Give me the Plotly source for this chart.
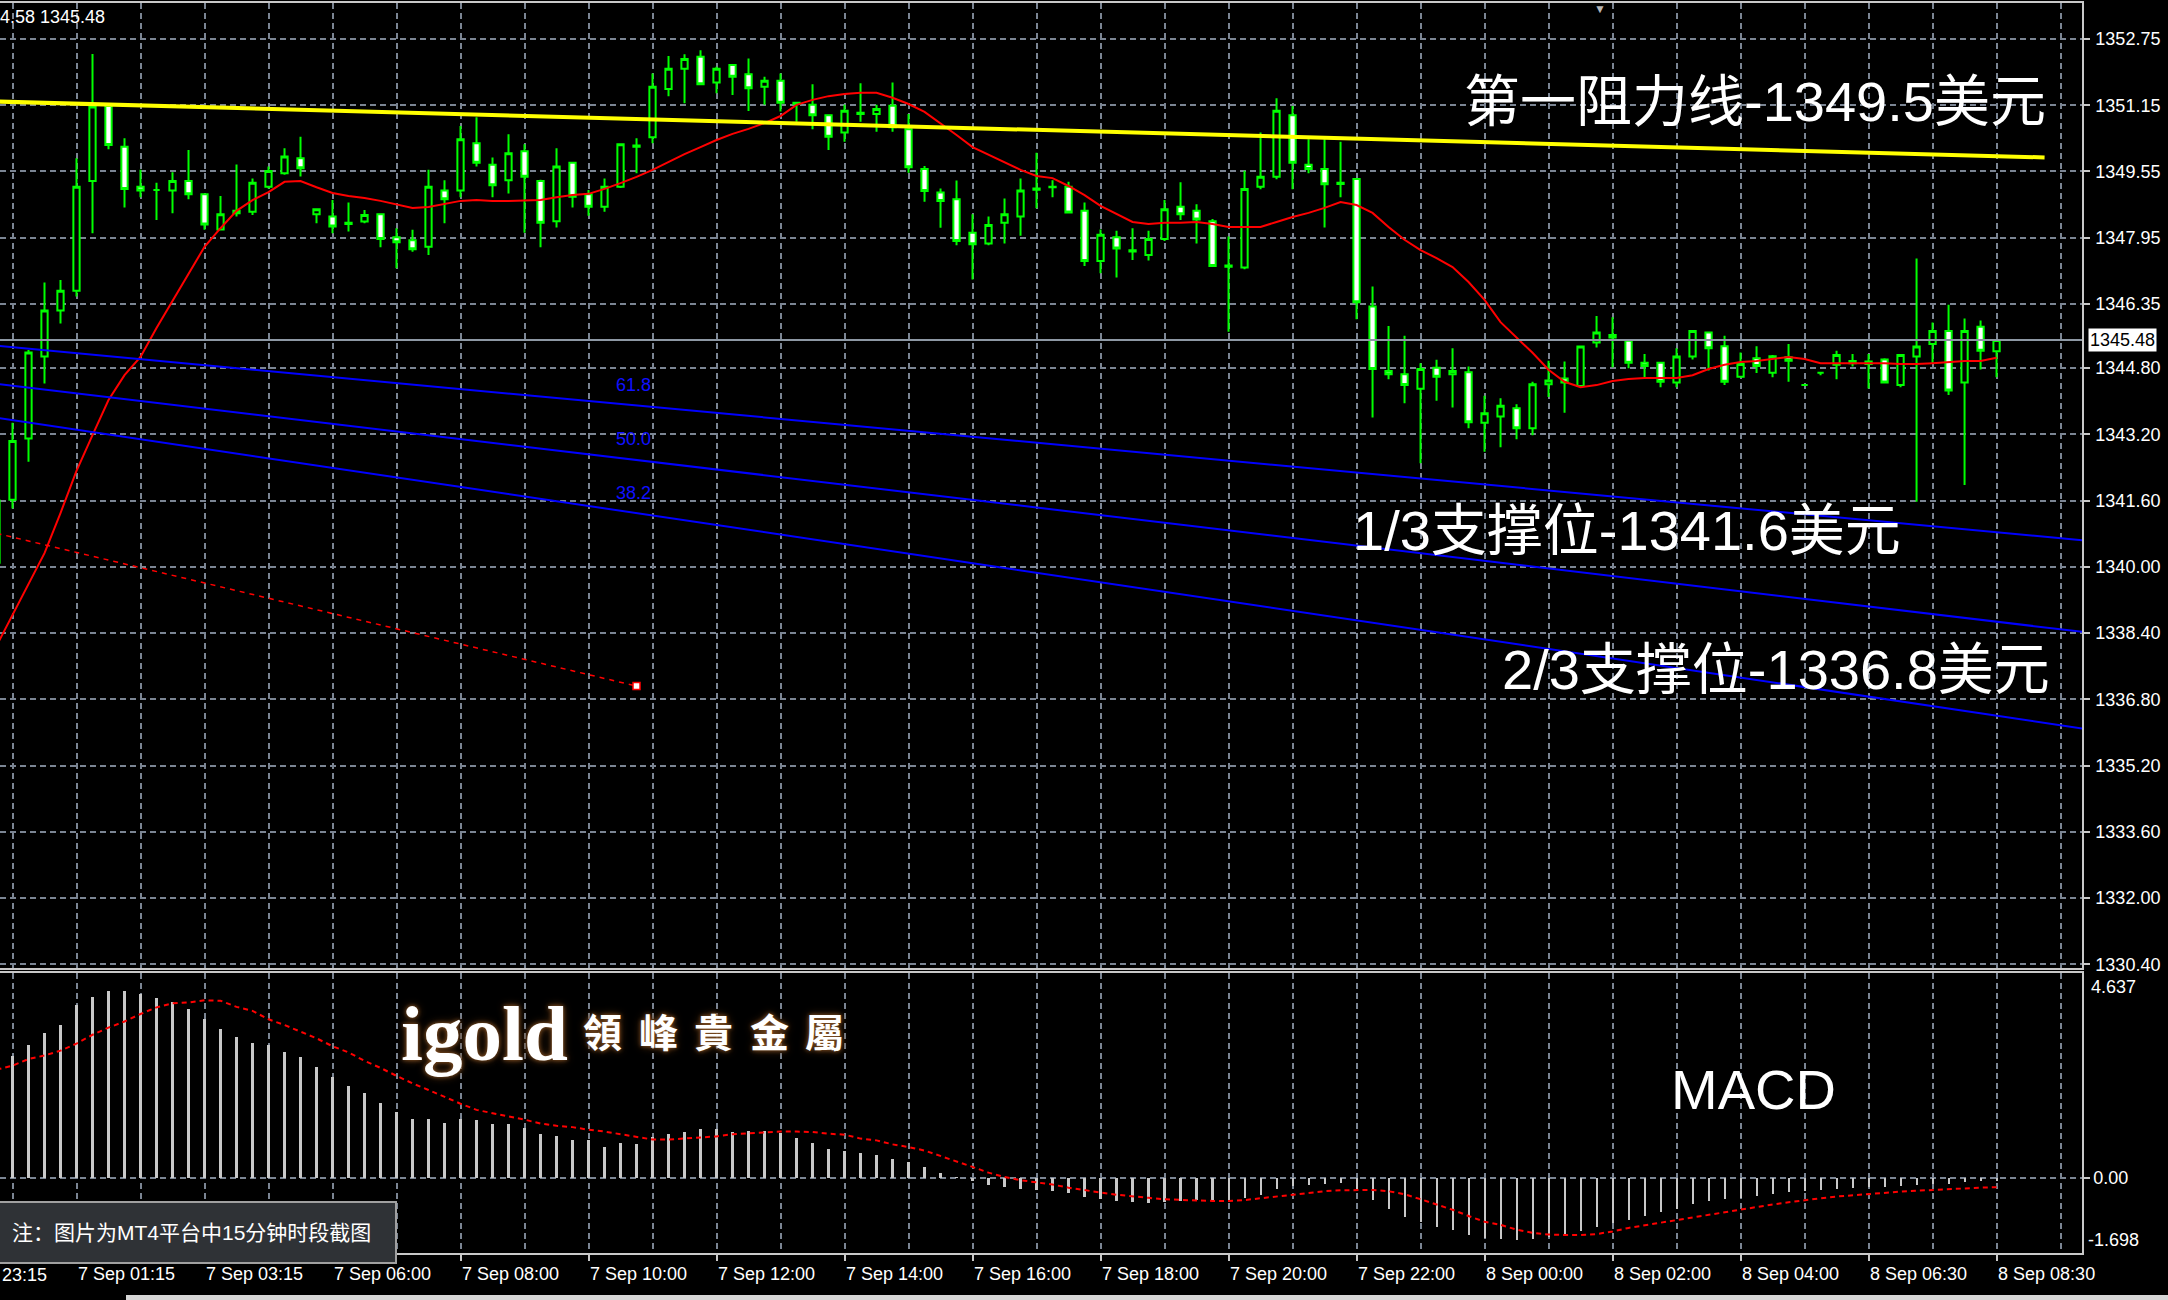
import plotly.graph_objects as go

W, H = 2168, 1300

# ---- 15-minute bars (index 0 = first full bar on screen) ----
bar_index = list(range(-1, 125))

open_ = [1340.10, 1341.62, 1343.10, 1345.08, 1346.19, 1346.67, 1349.32, 1351.13, 1350.15, 1349.18,
         1349.10, 1349.09, 1349.32, 1349.00, 1348.15, 1348.54, 1348.58, 1349.18, 1349.51, 1349.87,
         1348.52, 1348.46, 1348.31, 1348.34, 1348.52, 1347.96, 1347.89, 1347.73, 1349.09, 1349.09,
         1350.23, 1349.71, 1349.34, 1350.04, 1349.32, 1348.35, 1349.76, 1349.00, 1348.70, 1349.18,
         1350.18, 1350.38, 1351.54, 1352.03, 1352.32, 1351.70, 1352.12, 1351.90, 1351.60, 1351.74,
         1351.21, 1351.16, 1350.91, 1350.49, 1350.94, 1350.94, 1351.14, 1350.57, 1349.61, 1349.04,
         1348.88, 1348.07, 1347.81, 1348.31, 1348.46, 1349.14, 1349.18, 1349.18, 1348.60, 1347.39,
         1347.96, 1347.65, 1347.53, 1347.92, 1348.70, 1348.60, 1348.35, 1347.28, 1347.23, 1349.18,
         1349.42, 1350.91, 1349.71, 1349.61, 1349.28, 1349.37, 1346.29, 1344.73, 1344.65, 1344.30,
         1344.81, 1344.65, 1344.70, 1343.48, 1343.63, 1343.83, 1343.35, 1344.41, 1344.55, 1344.37,
         1345.42, 1345.60, 1345.46, 1344.93, 1344.93, 1344.45, 1345.08, 1345.66, 1345.33, 1344.59,
         1345.04, 1344.69, 1345.06, 1344.39, 1344.69, 1344.88, 1344.92, 1344.90, 1345.01, 1344.39,
         1345.08, 1345.38, 1345.70, 1344.45, 1345.80, 1345.21]
high = [1341.70, 1343.48, 1345.24, 1346.87, 1346.93, 1349.87, 1352.39, 1351.15, 1350.35, 1349.59,
        1349.28, 1349.53, 1350.07, 1349.02, 1348.96, 1349.72, 1349.38, 1349.67, 1350.11, 1350.39,
        1348.66, 1348.86, 1348.80, 1348.62, 1348.52, 1348.18, 1348.14, 1349.59, 1349.34, 1350.65,
        1350.86, 1349.89, 1350.45, 1350.21, 1349.35, 1350.11, 1349.78, 1349.10, 1349.38, 1350.21,
        1350.35, 1351.92, 1352.34, 1352.38, 1352.48, 1352.08, 1352.12, 1352.28, 1351.84, 1351.92,
        1351.22, 1351.66, 1350.93, 1351.16, 1351.68, 1351.16, 1351.70, 1350.94, 1349.68, 1349.14,
        1349.33, 1348.52, 1348.46, 1348.90, 1349.38, 1350.00, 1349.34, 1349.30, 1348.80, 1348.15,
        1348.12, 1348.18, 1348.12, 1348.86, 1349.29, 1348.76, 1348.40, 1347.98, 1349.57, 1350.49,
        1351.32, 1351.13, 1350.33, 1350.33, 1350.27, 1349.38, 1346.77, 1345.82, 1345.58, 1344.92,
        1345.00, 1345.28, 1344.84, 1344.13, 1344.07, 1343.93, 1344.47, 1344.98, 1344.96, 1345.33,
        1346.06, 1346.03, 1345.47, 1345.14, 1344.95, 1345.28, 1345.71, 1345.67, 1345.58, 1345.18,
        1345.33, 1345.12, 1345.38, 1344.40, 1344.70, 1345.22, 1345.14, 1345.14, 1345.04, 1345.13,
        1347.45, 1345.90, 1346.33, 1346.00, 1345.95, 1345.49]
low = [1339.90, 1341.41, 1342.54, 1344.43, 1345.88, 1346.53, 1348.06, 1350.09, 1348.68, 1348.93,
       1348.38, 1348.54, 1348.88, 1348.14, 1348.14, 1348.46, 1348.50, 1349.14, 1349.47, 1349.43,
       1348.30, 1348.06, 1348.10, 1348.30, 1347.72, 1347.21, 1347.61, 1347.53, 1348.30, 1348.93,
       1349.67, 1348.93, 1349.02, 1348.07, 1347.72, 1348.20, 1348.68, 1348.48, 1348.58, 1349.15,
       1349.51, 1350.23, 1351.37, 1351.20, 1351.64, 1351.44, 1351.40, 1351.01, 1351.16, 1351.00,
       1350.75, 1350.57, 1350.07, 1350.27, 1350.75, 1350.51, 1350.51, 1349.52, 1348.82, 1348.19,
       1347.77, 1346.94, 1347.77, 1347.81, 1348.00, 1348.66, 1348.93, 1348.54, 1347.27, 1347.09,
       1346.99, 1347.41, 1347.40, 1347.87, 1348.38, 1347.81, 1347.24, 1345.68, 1347.19, 1349.12,
       1349.36, 1349.12, 1349.51, 1348.20, 1348.93, 1345.98, 1343.61, 1344.53, 1343.95, 1342.50,
       1344.01, 1343.85, 1343.35, 1342.78, 1342.89, 1343.08, 1343.18, 1344.10, 1343.72, 1344.35,
       1345.30, 1344.82, 1344.80, 1344.58, 1344.34, 1344.34, 1345.01, 1344.74, 1344.39, 1344.58,
       1344.68, 1344.58, 1344.47, 1344.38, 1344.63, 1344.53, 1344.84, 1344.31, 1344.43, 1344.34,
       1341.57, 1344.92, 1344.15, 1341.98, 1344.77, 1344.58]
close = [1341.60, 1343.04, 1345.18, 1346.19, 1346.67, 1349.18, 1351.12, 1350.19, 1349.13, 1349.09,
         1349.10, 1349.32, 1349.00, 1348.27, 1348.52, 1348.60, 1349.28, 1349.56, 1349.91, 1349.63,
         1348.64, 1348.22, 1348.28, 1348.50, 1347.92, 1347.84, 1347.67, 1349.18, 1348.88, 1350.33,
         1349.76, 1349.22, 1349.99, 1349.42, 1348.31, 1349.67, 1348.94, 1348.70, 1349.18, 1350.21,
         1350.15, 1351.60, 1352.03, 1352.27, 1351.66, 1352.03, 1351.84, 1351.56, 1351.74, 1351.21,
         1351.18, 1350.91, 1350.39, 1351.02, 1350.97, 1351.06, 1350.62, 1349.65, 1349.08, 1348.84,
         1347.87, 1347.79, 1348.26, 1348.52, 1349.09, 1349.11, 1349.17, 1348.56, 1347.39, 1348.02,
         1347.69, 1347.62, 1347.92, 1348.64, 1348.52, 1348.39, 1347.27, 1347.25, 1349.13, 1349.42,
         1351.02, 1349.76, 1349.61, 1349.24, 1349.25, 1346.39, 1344.78, 1344.65, 1344.39, 1344.78,
         1344.59, 1344.73, 1343.49, 1343.71, 1343.89, 1343.35, 1344.41, 1344.50, 1344.45, 1345.32,
         1345.66, 1345.54, 1344.93, 1344.85, 1344.47, 1345.08, 1345.70, 1345.28, 1344.47, 1344.90,
         1344.85, 1345.09, 1344.98, 1344.39, 1344.69, 1345.12, 1344.97, 1344.96, 1344.45, 1345.12,
         1345.32, 1345.70, 1344.26, 1345.70, 1345.22, 1345.48]

# moving average (red)
ma_line = [1338.09, 1338.84, 1339.56, 1340.33, 1341.30, 1342.32, 1343.18, 1344.03, 1344.63, 1345.07,
           1345.77, 1346.42, 1347.07, 1347.73, 1348.18, 1348.60, 1348.86, 1349.05, 1349.30, 1349.32,
           1349.17, 1349.03, 1348.96, 1348.91, 1348.84, 1348.76, 1348.67, 1348.69, 1348.76, 1348.84,
           1348.86, 1348.84, 1348.84, 1348.85, 1348.86, 1348.93, 1348.98, 1349.01, 1349.13, 1349.27,
           1349.42, 1349.59, 1349.78, 1349.97, 1350.14, 1350.31, 1350.46, 1350.58, 1350.72, 1350.89,
           1351.16, 1351.28, 1351.37, 1351.42, 1351.45, 1351.45, 1351.33, 1351.18, 1350.99, 1350.72,
           1350.43, 1350.14, 1349.95, 1349.76, 1349.59, 1349.44, 1349.39, 1349.20, 1348.98, 1348.72,
           1348.52, 1348.33, 1348.28, 1348.31, 1348.31, 1348.33, 1348.28, 1348.21, 1348.21, 1348.21,
           1348.33, 1348.45, 1348.55, 1348.67, 1348.81, 1348.74, 1348.55, 1348.21, 1347.90, 1347.65,
           1347.46, 1347.24, 1346.88, 1346.45, 1345.91, 1345.53, 1345.17, 1344.76, 1344.47, 1344.34,
           1344.39, 1344.49, 1344.54, 1344.56, 1344.56, 1344.56, 1344.63, 1344.78, 1344.88, 1344.95,
           1344.97, 1345.02, 1345.07, 1345.02, 1344.92, 1344.92, 1344.92, 1344.92, 1344.92, 1344.90,
           1344.90, 1344.92, 1344.95, 1344.97, 1344.97, 1345.05]

# MACD main (histogram) and signal
macd_hist = [2.55, 2.77, 3.01, 3.29, 3.46, 3.91, 4.10, 4.22, 4.22, 4.17,
             4.07, 3.97, 3.82, 3.59, 3.37, 3.18, 3.05, 3.01, 2.84, 2.73,
             2.52, 2.28, 2.07, 1.93, 1.70, 1.49, 1.34, 1.34, 1.25, 1.34,
             1.30, 1.21, 1.21, 1.13, 1.00, 0.94, 0.85, 0.85, 0.71, 0.78,
             0.76, 0.92, 0.99, 1.04, 1.11, 1.11, 1.04, 1.06, 1.06, 1.01,
             0.90, 0.80, 0.66, 0.61, 0.56, 0.53, 0.44, 0.35, 0.25, 0.12,
             0.02, -0.08, -0.15, -0.20, -0.25, -0.28, -0.30, -0.35, -0.42, -0.48,
             -0.52, -0.55, -0.56, -0.55, -0.52, -0.50, -0.52, -0.55, -0.45, -0.38,
             -0.25, -0.18, -0.15, -0.13, -0.12, -0.25, -0.50, -0.70, -0.88, -1.00,
             -1.10, -1.18, -1.28, -1.35, -1.38, -1.40, -1.38, -1.33, -1.28, -1.20,
             -1.10, -1.02, -0.95, -0.85, -0.78, -0.70, -0.60, -0.52, -0.48, -0.45,
             -0.40, -0.36, -0.32, -0.30, -0.28, -0.25, -0.22, -0.20, -0.20, -0.18,
             -0.16, -0.13, -0.13, -0.10, -0.08, -0.06]
macd_signal = [2.45, 2.54, 2.69, 2.77, 2.88, 3.04, 3.24, 3.40, 3.54, 3.71,
               3.86, 3.95, 3.97, 4.02, 4.01, 3.87, 3.78, 3.59, 3.46, 3.31,
               3.16, 2.98, 2.84, 2.65, 2.49, 2.31, 2.14, 1.99, 1.83, 1.68,
               1.54, 1.47, 1.39, 1.32, 1.23, 1.18, 1.15, 1.09, 1.05, 0.99,
               0.92, 0.87, 0.87, 0.89, 0.92, 0.94, 0.99, 1.01, 1.04, 1.05,
               1.05, 1.04, 1.00, 0.98, 0.89, 0.85, 0.76, 0.70, 0.62, 0.50,
               0.38, 0.25, 0.12, 0.02, -0.05, -0.10, -0.15, -0.22, -0.28, -0.33,
               -0.38, -0.42, -0.45, -0.48, -0.50, -0.51, -0.52, -0.52, -0.50, -0.46,
               -0.42, -0.37, -0.33, -0.30, -0.28, -0.27, -0.27, -0.30, -0.37, -0.48,
               -0.60, -0.72, -0.86, -0.99, -1.06, -1.17, -1.24, -1.28, -1.29, -1.29,
               -1.27, -1.21, -1.13, -1.07, -1.01, -0.96, -0.90, -0.84, -0.78, -0.72,
               -0.66, -0.60, -0.55, -0.50, -0.46, -0.42, -0.39, -0.36, -0.33, -0.31,
               -0.29, -0.27, -0.25, -0.24, -0.22, -0.21]

# drawn objects: resistance trend line, fibonacci fan and its base line
resistance_bars = [-1, 127]
resistance_prices = [1351.24, 1349.89]
fan_bars = [-1, 130]
fan_618 = [1345.34, 1340.62]
fan_500 = [1344.42, 1338.40]
fan_382 = [1343.60, 1336.06]
fan_levels = ["61.8", "50.0", "38.2"]
fan_label_bar = 40
fan_label_prices = [1344.39, 1343.09, 1341.78]
fib_base_bars = [-1, 39]
fib_base_prices = [1340.81, 1337.12]

# axes
price_ticks = [1352.75, 1351.15, 1349.55, 1347.95, 1346.35, 1344.80, 1343.20, 1341.60,
               1340.00, 1338.40, 1336.80, 1335.20, 1333.60, 1332.00, 1330.40]
macd_max, macd_min = 4.637, -1.698
time_tick_bars = [4, 12, 20, 28, 36, 44, 52, 60, 68, 76, 84, 92, 100, 108, 116, 124]
time_tick_labels = ["7 Sep 01:15", "7 Sep 03:15", "7 Sep 06:00", "7 Sep 08:00", "7 Sep 10:00",
                    "7 Sep 12:00", "7 Sep 14:00", "7 Sep 16:00", "7 Sep 18:00", "7 Sep 20:00",
                    "7 Sep 22:00", "8 Sep 00:00", "8 Sep 02:00", "8 Sep 04:00", "8 Sep 06:30",
                    "8 Sep 08:30"]
first_tick_bar, first_tick_label = -4, "6 Sep 23:15"

# ---- layout geometry (pixels) ----
PLOT_RIGHT = 2082
X_RANGE = [-0.78125, 129.34]
PRICE_RANGE = [1330.31, 1353.62]
GRID = "#7b8593"
BORDER = "#c8c8c8"
LABEL_FONT = "Liberation Sans, Arial, sans-serif"
CJK_FONT = "Liberation Sans, Noto Sans CJK SC, sans-serif"


def px(x):
    return x / W


def py(y):
    return 1 - y / H


fig = go.Figure()

fig.add_trace(go.Candlestick(
    x=bar_index, open=open_, high=high, low=low, close=close,
    increasing=dict(line=dict(color="#00ff00", width=2), fillcolor="#000000"),
    decreasing=dict(line=dict(color="#00ff00", width=2), fillcolor="#ffffff"),
    whiskerwidth=0, hoverinfo="skip", showlegend=False, xaxis="x", yaxis="y"))

fig.add_trace(go.Scatter(x=bar_index, y=ma_line, mode="lines",
                         line=dict(color="#ff0000", width=2), hoverinfo="skip",
                         showlegend=False, xaxis="x", yaxis="y"))

fig.add_trace(go.Scatter(x=resistance_bars, y=resistance_prices, mode="lines",
                         line=dict(color="#ffff00", width=4), hoverinfo="skip",
                         showlegend=False, xaxis="x", yaxis="y"))

for fan in (fan_618, fan_500, fan_382):
    fig.add_trace(go.Scatter(x=fan_bars, y=fan, mode="lines",
                             line=dict(color="#0000ff", width=2), hoverinfo="skip",
                             showlegend=False, xaxis="x", yaxis="y"))

fig.add_trace(go.Scatter(x=fib_base_bars, y=fib_base_prices, mode="lines",
                         line=dict(color="#ff0000", width=1.5, dash="5px,5px"),
                         hoverinfo="skip", showlegend=False, xaxis="x", yaxis="y"))
fig.add_trace(go.Scatter(x=fib_base_bars[-1:], y=fib_base_prices[-1:], mode="markers",
                         marker=dict(symbol="square", size=7, color="#ffffff",
                                     line=dict(color="#ff0000", width=1.5)),
                         hoverinfo="skip", showlegend=False, xaxis="x", yaxis="y"))

# MACD panel
fig.add_trace(go.Bar(x=bar_index, y=macd_hist, width=0.13, marker_color="#c8c8c8",
                     marker_line_width=0, hoverinfo="skip", showlegend=False,
                     xaxis="x2", yaxis="y2"))
fig.add_trace(go.Scatter(x=bar_index, y=macd_signal, mode="lines",
                         line=dict(color="#ff0000", width=2, dash="5px,4px"),
                         hoverinfo="skip", showlegend=False, xaxis="x2", yaxis="y2"))

grid_common = dict(showgrid=True, gridcolor=GRID, gridwidth=1.5, griddash="6px,4px",
                   zeroline=False, automargin=False)

fig.update_layout(
    width=W, height=H, autosize=False,
    margin=dict(l=0, r=0, t=0, b=0, pad=0, autoexpand=False),
    paper_bgcolor="#000000", plot_bgcolor="#000000",
    hovermode=False, showlegend=False, boxgap=0.44, bargap=0,
    xaxis=dict(domain=[0, px(PLOT_RIGHT)], range=X_RANGE, anchor="y",
               tick0=0, dtick=4, showticklabels=False, ticks="",
               showline=True, linecolor=BORDER, linewidth=1.5, mirror=True,
               rangeslider=dict(visible=False), **grid_common),
    yaxis=dict(domain=[py(968), py(3)], range=PRICE_RANGE, anchor="x", side="right",
               tickmode="array", tickvals=price_ticks,
               ticktext=[f"{v:.2f}" for v in price_ticks],
               ticks="outside", ticklen=6, tickcolor=BORDER, tickwidth=1.5,
               ticklabelstandoff=2,
               tickfont=dict(family=LABEL_FONT, size=18, color="#ffffff"),
               showline=True, linecolor=BORDER, linewidth=1.5, **grid_common),
    xaxis2=dict(domain=[0, px(PLOT_RIGHT)], range=X_RANGE, anchor="y2", matches="x",
                tickmode="array", tickvals=time_tick_bars, ticktext=time_tick_labels,
                ticks="outside", ticklen=6, tickcolor=BORDER, tickwidth=1.5,
                ticklabelposition="outside right", ticklabelstandoff=4,
                tickfont=dict(family=LABEL_FONT, size=18, color="#ffffff"),
                minor=dict(tick0=0, dtick=4, showgrid=True, gridcolor=GRID,
                           gridwidth=1.5, griddash="6px,4px", ticks=""),
                showline=True, linecolor=BORDER, linewidth=1.5, mirror=True,
                **grid_common),
    yaxis2=dict(domain=[py(1253), py(973)], range=[macd_min, macd_max], anchor="x2",
                side="right", tickmode="array", tickvals=[0], ticktext=["0.00"],
                ticks="outside", ticklen=6, tickcolor=BORDER, tickwidth=1.5,
                ticklabelstandoff=0,
                tickfont=dict(family=LABEL_FONT, size=18, color="#ffffff"),
                showline=True, linecolor=BORDER, linewidth=1.5, **grid_common),
)

last_close = close[-1]
shapes = [
    # current bid line
    dict(type="line", xref="paper", yref="y", x0=0, x1=px(PLOT_RIGHT),
         y0=last_close, y1=last_close, line=dict(color="#8d98a4", width=2)),
    # note box
    dict(type="rect", xref="paper", yref="paper", x0=px(-2), x1=px(396),
         y0=py(1263), y1=py(1202), fillcolor="#2f3236",
         line=dict(color="#a0a0a0", width=2)),
    # window frame strip at the bottom
    dict(type="rect", xref="paper", yref="paper", x0=px(126), x1=1.0,
         y0=0, y1=py(1295), fillcolor="#d6d6d6", line=dict(width=0)),
]

annotations = [
    # current price tag
    dict(xref="paper", yref="y", x=px(2088), y=last_close, xanchor="left", yanchor="middle",
         text=f"{last_close:.2f}", showarrow=False, bgcolor="#ffffff", borderpad=1,
         font=dict(family=LABEL_FONT, size=18, color="#000000")),
    # MACD scale extremes
    dict(xref="paper", yref="paper", x=px(2089), y=py(987), xanchor="left", yanchor="middle",
         text=f"{macd_max:.3f}", showarrow=False,
         font=dict(family=LABEL_FONT, size=18, color="#ffffff")),
    dict(xref="paper", yref="paper", x=px(2086), y=py(1240), xanchor="left", yanchor="middle",
         text=f"{macd_min:.3f}", showarrow=False,
         font=dict(family=LABEL_FONT, size=18, color="#ffffff")),
    # leftmost, partly hidden time label
    dict(xref="paper", yref="paper",
         x=px(PLOT_RIGHT) * (first_tick_bar - X_RANGE[0]) / (X_RANGE[1] - X_RANGE[0]),
         y=py(1275), xanchor="left", yanchor="middle", text=first_tick_label,
         showarrow=False, font=dict(family=LABEL_FONT, size=18, color="#ffffff")),
    # chart header
    dict(xref="paper", yref="paper", x=px(-2), y=py(17), xanchor="left", yanchor="middle",
         text="4.58 1345.48", showarrow=False,
         font=dict(family=LABEL_FONT, size=18, color="#ffffff")),
    # shift marker
    dict(xref="paper", yref="paper", x=px(1600), y=py(8), xanchor="center", yanchor="middle",
         text="▼", showarrow=False, font=dict(size=12, color="#b8b8b8")),
    # level captions
    dict(xref="paper", yref="paper", x=px(1462), y=py(101), xanchor="left", yanchor="middle",
         text="第一阻力线-1349.5美元", showarrow=False,
         font=dict(family=CJK_FONT, size=56, color="#ffffff")),
    dict(xref="paper", yref="paper", x=px(1351), y=py(530), xanchor="left", yanchor="middle",
         text="1/3支撑位-1341.6美元", showarrow=False,
         font=dict(family=CJK_FONT, size=56, color="#ffffff")),
    dict(xref="paper", yref="paper", x=px(1500), y=py(669), xanchor="left", yanchor="middle",
         text="2/3支撑位-1336.8美元", showarrow=False,
         font=dict(family=CJK_FONT, size=56, color="#ffffff")),
    dict(xref="paper", yref="paper", x=px(1669), y=py(1089), xanchor="left", yanchor="middle",
         text="MACD", showarrow=False,
         font=dict(family=CJK_FONT, size=56, color="#ffffff")),
    # watermark
    dict(xref="paper", yref="paper", x=px(399), y=py(1033), xanchor="left", yanchor="middle",
         text="<b>igold</b>", showarrow=False,
         font=dict(family="Liberation Serif, DejaVu Serif, serif", size=79, color="#ffffff",
                   shadow="0px 0px 4px #8a5526, 0px 0px 9px #5c3613")),
    # note
    dict(xref="paper", yref="paper", x=px(10), y=py(1232), xanchor="left", yanchor="middle",
         text="注：图片为MT4平台中15分钟时段截图", showarrow=False,
         font=dict(family=CJK_FONT, size=21, color="#ffffff")),
]

for i, ch in enumerate("領峰貴金屬"):
    annotations.append(dict(
        xref="paper", yref="paper", x=px(581 + 55.5 * i), y=py(1030), xanchor="left",
        yanchor="middle", text=f"<b>{ch}</b>", showarrow=False,
        font=dict(family="Noto Sans CJK TC, sans-serif", size=39, color="#ffffff",
                  shadow="0px 0px 4px #8a5526, 0px 0px 8px #5c3613")))

for lvl, lvl_price in zip(fan_levels, fan_label_prices):
    annotations.append(dict(
        xref="x", yref="y", x=fan_label_bar, y=lvl_price, xanchor="right", yanchor="middle",
        text=lvl, showarrow=False,
        font=dict(family=LABEL_FONT, size=18, color="#1010ff")))

fig.update_layout(shapes=shapes, annotations=annotations)

fig.write_html("out.html")
